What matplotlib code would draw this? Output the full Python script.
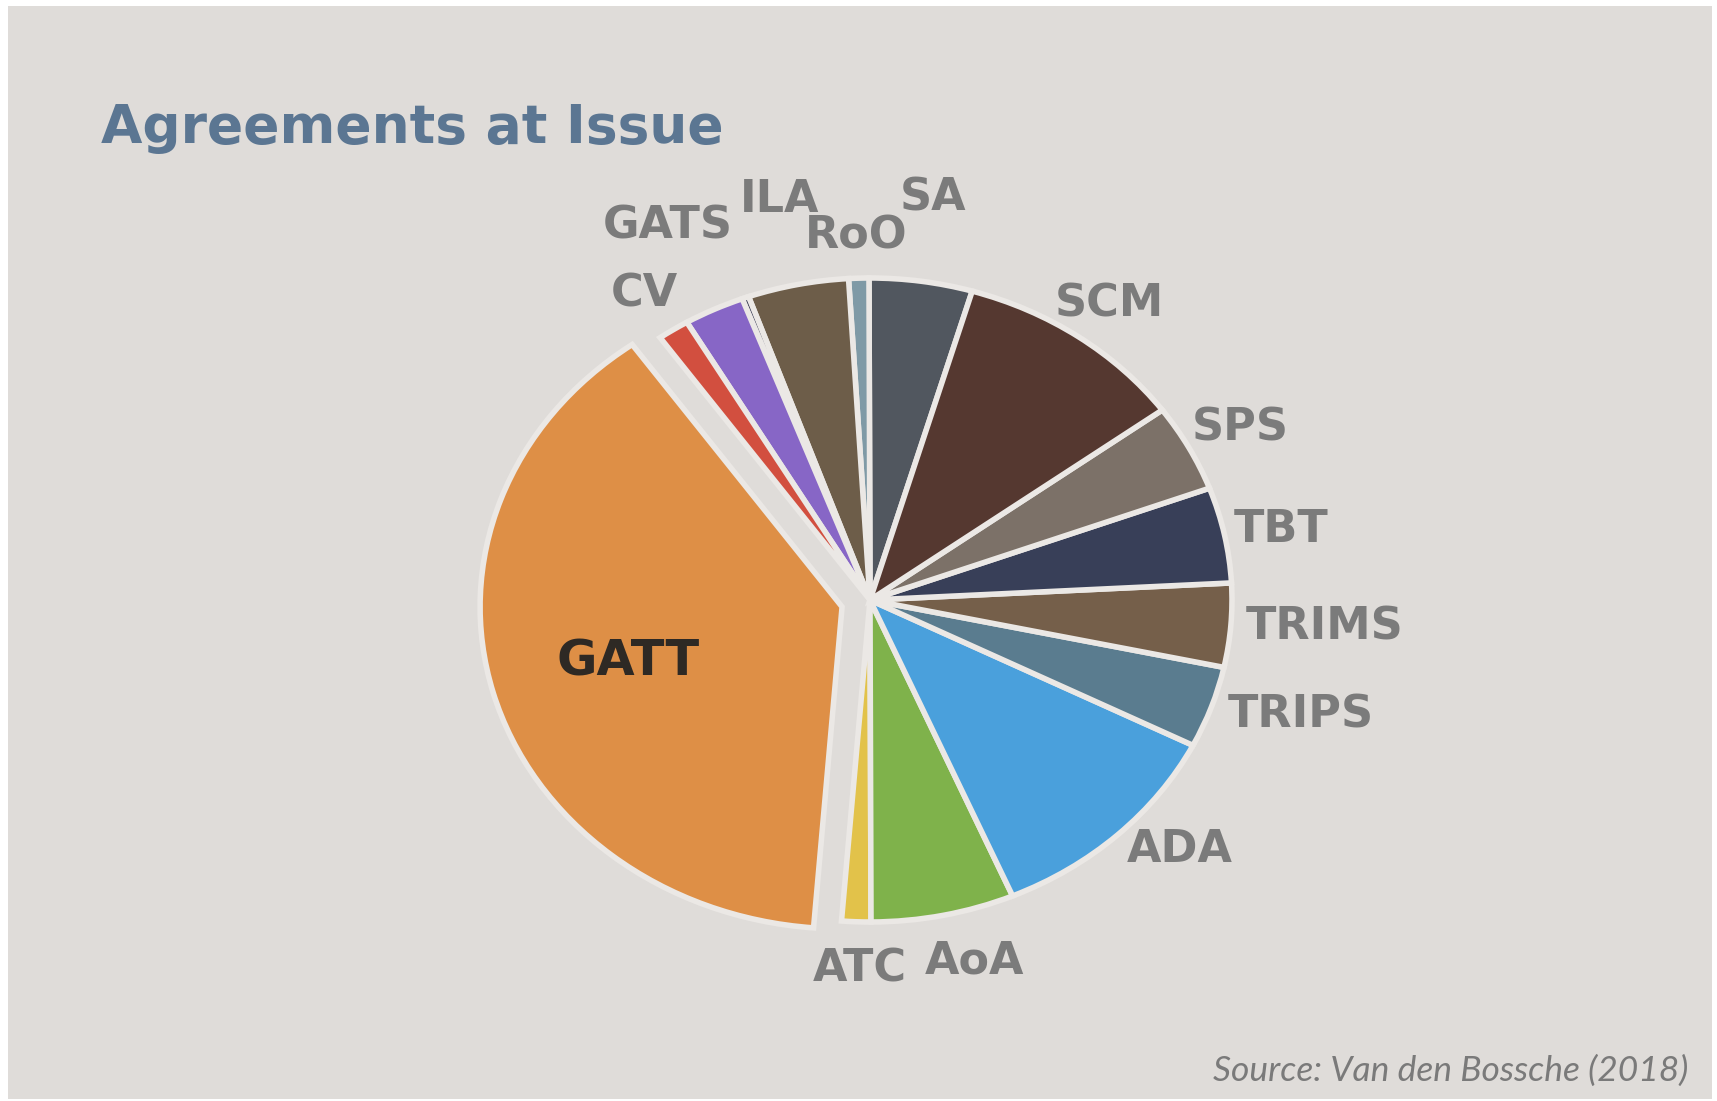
import matplotlib.pyplot as plt
from matplotlib.patches import Rectangle

# Share of disputes per agreement (percent), counter-clockwise from the SA/SCM edge
agreements = ["SA", "RoO", "ILA", "", "GATS", "CV", "GATT", "ATC",
              "AoA", "ADA", "TRIPS", "TRIMS", "TBT", "SPS", "SCM"]
shares = [4.6, 0.9, 4.5, 0.3, 2.7, 1.4, 38.9, 1.3,
          6.4, 11.1, 4.1, 4.2, 4.8, 4.4, 10.4]
colors = ["#51575f", "#7f9aa6", "#6d5d49", "#3a3d55", "#8766c6", "#d24f3f",
          "#de8f46", "#e2c24a", "#7fb24b", "#4aa0dc", "#5a7c8f", "#755f4a",
          "#383f58", "#7c7168", "#553830"]
explode = [0.08 if a == "GATT" else 0 for a in agreements]

# label anchor points in pixels (x, y from top-left)
label_px = {
    "GATS": (668, 226), "ILA": (780, 200), "RoO": (856, 236), "SA": (933, 198),
    "CV": (644, 294), "SCM": (1109, 304), "SPS": (1240, 428), "TBT": (1281, 529),
    "TRIMS": (1325, 627), "TRIPS": (1301, 715), "ADA": (1180, 850),
    "AoA": (975, 961), "ATC": (860, 969), "GATT": (628, 661),
}

W, H = 1717, 1101
bg = "#dfdcd9"
fig = plt.figure(figsize=(W / 100, H / 100), dpi=100, facecolor="white")
# slide area inside a thin white border
fig.add_artist(Rectangle((8 / W, 2 / H), (W - 13) / W, (H - 8) / H,
                         transform=fig.transFigure, facecolor=bg, edgecolor="none",
                         zorder=0))
ax = fig.add_axes([0, 0, 1, 1])
ax.patch.set_visible(False)

ax.pie(shares, colors=colors, explode=explode, startangle=73.6, counterclock=True,
       wedgeprops=dict(edgecolor="#ebe8e5", linewidth=4))

# slightly squashed pie, centre at (870, 600) px
cx, cy, rx, ry = 870, 600, 362, 322
ax.set_aspect("auto")
ax.set_xlim(-cx / rx, (W - cx) / rx)
ax.set_ylim(-(H - cy) / ry, cy / ry)
ax.axis("off")

for name, (px, py) in label_px.items():
    if name == "GATT":
        fig.text(px / W, 1 - py / H, name, fontsize=35.5, color="#2e2924",
                 family="DejaVu Sans", weight="bold", ha="center", va="center")
    else:
        fig.text(px / W, 1 - py / H, name, fontsize=32, color="#7b7b7b",
                 family="DejaVu Sans", weight="bold", ha="center", va="center")

fig.text(101 / W, 1 - 128 / H, "Agreements at Issue", fontsize=38.5, color="#5b7692",
         family="DejaVu Sans", weight="bold", ha="left", va="center")
fig.text(1688 / W, 1 - 1071 / H, "Source: Van den Bossche (2018)", fontsize=25.5,
         color="#7a7a7a", family="Lato", style="italic", ha="right", va="center")

fig.savefig("out.png", dpi=100, facecolor="white")
